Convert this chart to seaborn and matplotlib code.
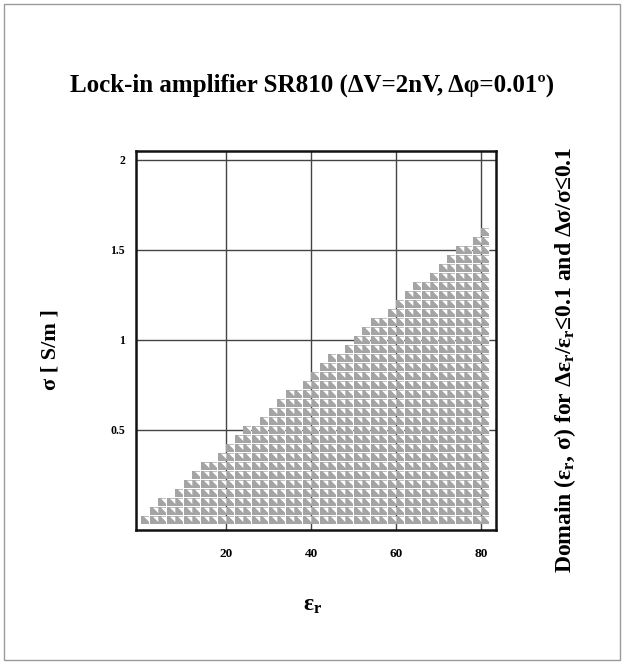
import matplotlib
matplotlib.use("Agg")
import matplotlib.pyplot as plt
import seaborn as sns
import pandas as pd
from matplotlib.patches import Rectangle

# column positions (eps_r) and the top sigma reached in each column
eps_cols = [1, 3, 5, 7, 9, 11, 13, 15, 17, 19, 21, 23, 25, 27, 29, 31, 33, 35, 37, 39,
            41, 43, 45, 47, 49, 51, 53, 55, 57, 59, 61, 63, 65, 67, 69, 71, 73, 75, 77, 79, 81]
sigma_top = [0.0, 0.05, 0.10, 0.10, 0.15, 0.20, 0.25, 0.30, 0.30, 0.35, 0.40, 0.45, 0.50, 0.50,
             0.55, 0.60, 0.65, 0.70, 0.70, 0.75, 0.80, 0.85, 0.90, 0.90, 0.95, 1.00, 1.05, 1.10,
             1.10, 1.15, 1.20, 1.25, 1.30, 1.30, 1.35, 1.40, 1.45, 1.50, 1.50, 1.55, 1.60]
sigma_step = 0.05

x_ticks = [20, 40, 60, 80]
y_ticks = [0.5, 1, 1.5, 2]
y_ticklabels = ["0.5", "1", "1.5", "2"]

rows = []
for e, top in zip(eps_cols, sigma_top):
    n = int(round(top / sigma_step))
    for k in range(n + 1):
        rows.append({"eps": e, "sigma": k * sigma_step})
df = pd.DataFrame(rows)

sns.set_style("white")
plt.rcParams["font.family"] = ["Liberation Serif", "DejaVu Serif"]
plt.rcParams["font.weight"] = "bold"
plt.rcParams["text.color"] = "black"
plt.rcParams["xtick.color"] = "black"
plt.rcParams["ytick.color"] = "black"
plt.rcParams["mathtext.fontset"] = "custom"
plt.rcParams["mathtext.rm"] = "Liberation Serif:bold"
plt.rcParams["mathtext.it"] = "Liberation Serif:bold"
plt.rcParams["mathtext.bf"] = "Liberation Serif:bold"

fig = plt.figure(figsize=(6.24, 6.64), dpi=100)
ax = fig.add_axes([0.218, 0.2018, 0.577, 0.5708])

# grey square cells with a small white triangle in the upper right corner
sns.scatterplot(data=df, x="eps", y="sigma", marker="s", s=38, color="#a4a4a4",
                linewidth=0, ax=ax, zorder=3)
tri = [(-0.2, 0.5), (0.5, 0.5), (0.5, -0.2), (-0.2, 0.5)]
sns.scatterplot(data=df, x="eps", y="sigma", marker=tri, s=30, color="white",
                linewidth=0, ax=ax, zorder=4)

ax.set_xlim(-1.2, 83.5)
ax.set_ylim(-0.056, 2.05)
ax.set_xticks(x_ticks)
ax.set_xticklabels([str(t) for t in x_ticks], fontsize=9.5, fontweight="bold")
ax.set_yticks(y_ticks)
ax.set_yticklabels(y_ticklabels, fontsize=8.5, fontweight="bold")
ax.tick_params(axis="x", direction="inout", length=16, width=1.5, color="#222222", pad=5)
ax.tick_params(axis="y", direction="out", length=6, width=1.2, color="#222222", pad=2)
ax.grid(True, color="#444444", linewidth=1.0)
ax.set_axisbelow(True)
for sp in ax.spines.values():
    sp.set_color("#111111")
    sp.set_linewidth(1.8)
ax.set_xlabel("")
ax.set_ylabel("")

fig.text(0.5, 0.872, "Lock-in amplifier SR810 (ΔV=2nV, Δφ=0.01º)", ha="center", va="center",
         fontsize=18, fontweight="bold")
fig.text(50 / 624, 1 - 350 / 664, "σ [ S/m ]", rotation=90, ha="center", va="center",
         fontsize=16, fontweight="bold")
fig.text(313 / 624, 1 - 605 / 664, r"$\epsilon_r$", ha="center", va="center", fontsize=17)
fig.text(565 / 624, 1 - 360 / 664,
         r"Domain ($\epsilon_r$, σ) for Δ$\epsilon_r$/$\epsilon_r$≤0.1 and Δσ/σ≤0.1",
         rotation=90, ha="center", va="center", fontsize=17, fontweight="bold")

fig.patches.append(Rectangle((0.006, 0.006), 0.988, 0.988, transform=fig.transFigure,
                             fill=False, edgecolor="#9a9a9a", linewidth=1.0))

fig.savefig("out.png", dpi=100)
